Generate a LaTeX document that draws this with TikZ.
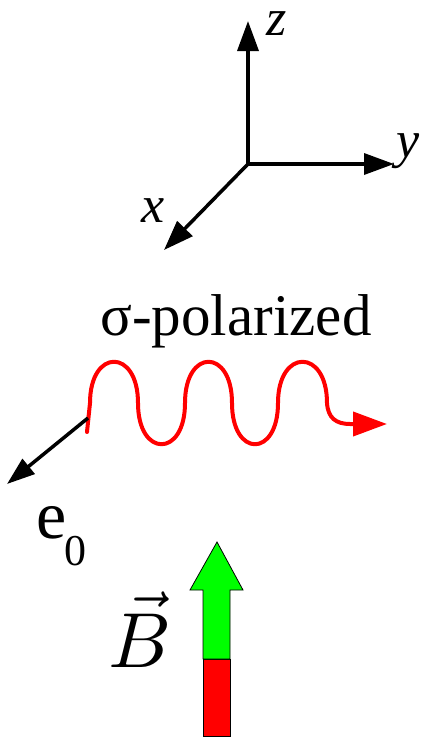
\documentclass[tikz,border=0pt]{standalone}
\usepackage{graphicx}
\usepackage{fontspec}
\setmainfont{Liberation Serif}
\usetikzlibrary{arrows.meta}
\begin{document}
\begin{tikzpicture}[x=1pt,y=-1pt,
  axis/.style={line width=3.5pt,-{Triangle[length=30pt,width=21pt]}},
  lbl/.style={inner sep=0pt,anchor=base west},
  wave/.style={red,line width=4pt,line cap=round,line join=round,-{Triangle[length=34pt,width=24pt]}},
  blockgreen/.style={fill={rgb,255:red,0;green,255;blue,0},draw=black,line width=0.8pt},
  blockred/.style={fill={rgb,255:red,255;green,0;blue,0},draw=black,line width=0.8pt}]
\useasboundingbox (0,0) rectangle (427,739);
% axes
\coordinate (O) at (248,164);
\coordinate (Z) at (248,21);
\coordinate (Y) at (394,164);
\coordinate (X) at (164,250);
\draw[axis] (O) -- (Z);
\draw[axis] (O) -- (Y);
\draw[axis] (O) -- (X);
\node[lbl,font=\fontsize{52}{60}\selectfont\itshape] (zl) at (266,35) {z};
\node[lbl,font=\fontsize{52}{60}\selectfont\itshape] (yl) at (396,157) {y};
\node[lbl,font=\fontsize{52}{60}\selectfont\itshape] (xl) at (141,222) {x};
% title
\node[inner sep=0pt,anchor=base,font=\fontsize{59}{70}\selectfont] (title) at (236,335) {σ-polarized};
% wave
\coordinate (W0) at (87,432);
\coordinate (Wend) at (387,424);
\draw[wave] (W0) -- (90,403)
  .. controls (90,348) and (138,348) .. (138,403)
  .. controls (138,458) and (185,458) .. (185,403)
  .. controls (185,348) and (232,348) .. (232,403)
  .. controls (232,458) and (278,458) .. (278,403)
  .. controls (278,348) and (327,348) .. (327,403)
  .. controls (328,418) and (336,424) .. (350,424) -- (Wend);
% e0 arrow
\coordinate (E1) at (88,418);
\coordinate (E2) at (7,484);
\draw[line width=3.5pt,-{Triangle[length=28pt,width=19pt]}] (E1) -- (E2);
\node[lbl,font=\fontsize{68}{70}\selectfont] (e) at (36,538) {e};
\node[lbl,font=\fontsize{44}{50}\selectfont] (zero) at (64,565) {0};
% B field arrow
\draw[blockred] (203,659) rectangle (230,736);
\draw[blockgreen] (203,659) -- (203,590) -- (190,590) -- (217,542) -- (243,590) -- (230,590) -- (230,659) -- cycle;
\node[lbl] (B) at (108,667) {\scalebox{7.8}{$\vec{B}$}};
\end{tikzpicture}
\end{document}
